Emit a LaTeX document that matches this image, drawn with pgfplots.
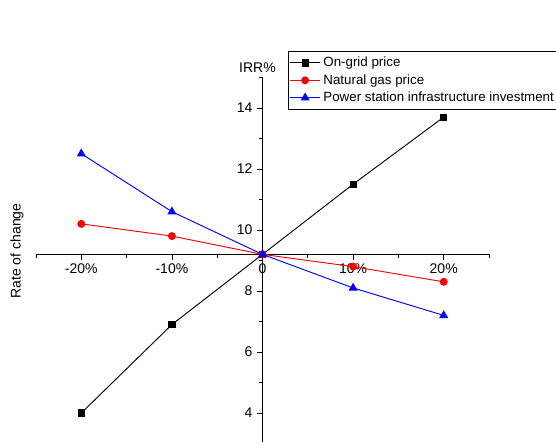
\documentclass[border=0pt]{standalone}
\usepackage{fontspec}
\setmainfont{Liberation Sans}
\usepackage{pgfplots}
\pgfplotsset{compat=1.18}
\begin{document}
\begin{tikzpicture}
\begin{axis}[
  at={(0pt,0pt)}, anchor=south west,
  scale only axis, width=339.75pt, height=273.4pt,
  xmin=-25, xmax=25, ymin=3.05, ymax=15,
  axis x line=none, axis y line=middle,
  y axis line style={-, black, line width=0.6pt},
  ytick={4,6,8,10,12,14}, minor ytick={5,7,9,11,13,15},
  xtick=\empty,
  tick align=outside,
  major tick length=4pt, minor tick length=3pt,
  tick style={black, line width=0.6pt},
  tick label style={font=\fontsize{10.5}{12}\selectfont},
  /pgf/number format/assume math mode=true,
  clip=false,
  legend style={at={(0.556,1.073)}, anchor=north west, draw=black,
    font=\fontsize{10}{12}\selectfont, inner xsep=1pt, inner ysep=2.5pt, row sep=0.3pt,
    legend cell align=left},
  legend image code/.code={\draw[mark repeat=2,mark phase=2] plot coordinates {(0cm,0cm) (0.4cm,0cm) (0.8cm,0cm)};},
]
% manual x axis at y = 9.2
\draw[black, line width=0.6pt] (axis cs:-25,9.2) -- (axis cs:25,9.2);
\draw[black, line width=0.6pt] (axis cs:-25,9.2) -- ++(0pt,-3pt);
\draw[black, line width=0.6pt] (axis cs:-20,9.2) -- ++(0pt,-4pt);
\draw[black, line width=0.6pt] (axis cs:-15,9.2) -- ++(0pt,-3pt);
\draw[black, line width=0.6pt] (axis cs:-10,9.2) -- ++(0pt,-4pt);
\draw[black, line width=0.6pt] (axis cs:-5,9.2) -- ++(0pt,-3pt);
\draw[black, line width=0.6pt] (axis cs:0,9.2) -- ++(0pt,-4pt);
\draw[black, line width=0.6pt] (axis cs:5,9.2) -- ++(0pt,-3pt);
\draw[black, line width=0.6pt] (axis cs:10,9.2) -- ++(0pt,-4pt);
\draw[black, line width=0.6pt] (axis cs:15,9.2) -- ++(0pt,-3pt);
\draw[black, line width=0.6pt] (axis cs:20,9.2) -- ++(0pt,-4pt);
\draw[black, line width=0.6pt] (axis cs:25,9.2) -- ++(0pt,-3pt);
\node[anchor=north, font=\fontsize{10.5}{12}\selectfont, inner sep=0pt] at ([yshift=-7pt]axis cs:-20,9.2) {-20\%};
\node[anchor=north, font=\fontsize{10.5}{12}\selectfont, inner sep=0pt] at ([yshift=-7pt]axis cs:-10,9.2) {-10\%};
\node[anchor=north, font=\fontsize{10.5}{12}\selectfont, inner sep=0pt] at ([yshift=-7pt]axis cs:0,9.2) {0};
\node[anchor=north, font=\fontsize{10.5}{12}\selectfont, inner sep=0pt] at ([yshift=-7pt]axis cs:10,9.2) {10\%};
\node[anchor=north, font=\fontsize{10.5}{12}\selectfont, inner sep=0pt] at ([yshift=-7pt]axis cs:20,9.2) {20\%};

\addplot[black, line width=0.7pt, mark=square*, mark size=2.3pt] coordinates {(-20,4.0) (-10,6.9) (0,9.2) (10,11.5) (20,13.7)};
\addlegendentry{On-grid price}
\addplot[red, line width=0.7pt, mark=*, mark size=2.6pt] coordinates {(-20,10.2) (-10,9.8) (0,9.2) (10,8.8) (20,8.3)};
\addlegendentry{Natural gas price}
\addplot[blue, line width=0.7pt, mark=triangle*, mark size=3.2pt] coordinates {(-20,12.5) (-10,10.6) (0,9.2) (10,8.1) (20,7.2)};
\addlegendentry{Power station infrastructure investment}

\node[anchor=base, font=\fontsize{10.5}{12}\selectfont, inner sep=0pt] at ([yshift=4pt]axis cs:-0.55,15) {IRR\%};
\node[rotate=90, font=\fontsize{10.5}{12}\selectfont, inner sep=0pt] at (rel axis cs:-0.042,0.524) {Rate of change};
\end{axis}
\pgfresetboundingbox
\useasboundingbox (-27pt,0pt) rectangle (390pt,331.5pt);
\end{tikzpicture}
\end{document}
